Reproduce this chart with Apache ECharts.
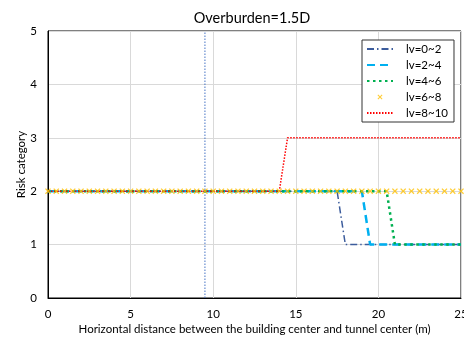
<!DOCTYPE html>
<html>
<head>
<meta charset="utf-8">
<script src="https://cdn.jsdelivr.net/npm/echarts@6/dist/echarts.min.js"></script>
<style>
  html, body { margin: 0; padding: 0; background: #fff; }
  #chart { width: 464px; height: 340px; }
</style>
</head>
<body>
<div id="chart"></div>
<script>
// breakpoints of each curve, [distance, risk category]
var lv0_2 = [[0, 2], [17.5, 2], [18, 1], [25, 1]];
var lv2_4 = [[0, 2], [19, 2], [19.5, 1], [25, 1]];
var lv4_6 = [[0, 2], [20.5, 2], [21, 1], [25, 1]];
var lv8_10 = [[0, 2], [14, 2], [14.5, 3], [25, 3]];
// lv=6~8 is plotted as markers every 0.5 m
var lv6_8X = [0, 0.5, 1, 1.5, 2, 2.5, 3, 3.5, 4, 4.5, 5, 5.5, 6, 6.5, 7, 7.5, 8, 8.5, 9, 9.5,
  10, 10.5, 11, 11.5, 12, 12.5, 13, 13.5, 14, 14.5, 15, 15.5, 16, 16.5, 17, 17.5, 18, 18.5, 19, 19.5,
  20, 20.5, 21, 21.5, 22, 22.5, 23, 23.5, 24, 24.5, 25];
var lv6_8Y = [2, 2, 2, 2, 2, 2, 2, 2, 2, 2, 2, 2, 2, 2, 2, 2, 2, 2, 2, 2,
  2, 2, 2, 2, 2, 2, 2, 2, 2, 2, 2, 2, 2, 2, 2, 2, 2, 2, 2, 2,
  2, 2, 2, 2, 2, 2, 2, 2, 2, 2, 2];
var refLine = [[9.5, 0], [9.5, 5]];
var xTicks = [0, 5, 10, 15, 20, 25];
var yTicks = [0, 1, 2, 3, 4, 5];

var font = "Lato, 'Open Sans', sans-serif";
var cross = "path://M0,1.5L1.5,0L5,3.5L8.5,0L10,1.5L6.5,5L10,8.5L8.5,10L5,6.5L1.5,10L0,8.5L3.5,5Z";
// same cross, padded so it stays small inside the legend icon box
var crossIcon = "path://M0,0L0.01,0L0,0.01Z M22,22L21.99,22L22,21.99Z " +
  "M6,7.5L7.5,6L11,9.5L14.5,6L16,7.5L12.5,11L16,14.5L14.5,16L11,12.5L7.5,16L6,14.5L9.5,11Z";
var hideSymbol = { color: "rgba(0,0,0,0)", borderWidth: 0, opacity: 0 };

var chart = echarts.init(document.getElementById("chart"));
var option = {
  animation: false,
  textStyle: { fontFamily: font },
  title: {
    text: "Overburden=1.5D",
    left: 247, top: 6, textAlign: "center",
    textStyle: { fontFamily: font, fontSize: 14.5, fontWeight: "normal", color: "#000" }
  },
  grid: {
    left: 48, right: 3, top: 31, bottom: 42,
    outerBoundsMode: "none",
    show: true, borderColor: "#000", borderWidth: 1
  },
  legend: {
    orient: "vertical",
    left: 362, top: 40,
    padding: [3, 6, 3, 4],
    itemGap: 4, itemWidth: 26, itemHeight: 11,
    backgroundColor: "#fff", borderColor: "#333", borderWidth: 1,
    textStyle: { fontFamily: font, fontSize: 11.5, color: "#000", padding: [0, 0, 0, 8] },
    data: [
      { name: "lv=0~2", itemStyle: hideSymbol },
      { name: "lv=2~4", itemStyle: hideSymbol },
      { name: "lv=4~6", itemStyle: hideSymbol },
      { name: "lv=6~8", icon: crossIcon },
      { name: "lv=8~10", itemStyle: hideSymbol }
    ]
  },
  xAxis: {
    type: "value", min: xTicks[0], max: xTicks[xTicks.length - 1], interval: 5,
    name: "Horizontal distance between the building center and tunnel center (m)",
    nameLocation: "middle", nameGap: 25, nameMoveOverlap: false,
    nameTextStyle: { fontFamily: font, fontSize: 11.5, color: "#000" },
    axisLine: { lineStyle: { color: "#000" } },
    axisTick: { show: false },
    axisLabel: { fontFamily: font, fontSize: 11.5, color: "#000", margin: 10 },
    splitLine: { lineStyle: { color: "#d9d9d9" } }
  },
  yAxis: {
    type: "value", min: yTicks[0], max: yTicks[yTicks.length - 1], interval: 1,
    name: "Risk category",
    nameLocation: "middle", nameGap: 21, nameMoveOverlap: false,
    nameTextStyle: { fontFamily: font, fontSize: 11.5, color: "#000" },
    axisLine: { show: true, lineStyle: { color: "#000" } },
    axisTick: { show: false },
    axisLabel: { fontFamily: font, fontSize: 11.5, color: "#000", margin: 11 },
    splitLine: { lineStyle: { color: "#d9d9d9" } }
  },
  series: [
    {
      name: "ref", type: "line", data: refLine, symbol: "none", silent: true,
      lineStyle: { color: "#4472C4", width: 1, type: [1.5, 1.5] }
    },
    {
      name: "lv=0~2", type: "line", data: lv0_2, symbol: "none",
      itemStyle: { color: "#3C5C9C" },
      lineStyle: { color: "#3C5C9C", width: 1.5, type: [7, 3, 1.5, 3] }
    },
    {
      name: "lv=2~4", type: "line", data: lv2_4, symbol: "none",
      itemStyle: { color: "#00B0F0" },
      lineStyle: { color: "#00B0F0", width: 2.5, type: [8, 5] }
    },
    {
      name: "lv=4~6", type: "line", data: lv4_6, symbol: "none",
      itemStyle: { color: "#00B050" },
      lineStyle: { color: "#00B050", width: 2.5, type: [2.5, 3.5] }
    },
    {
      name: "lv=8~10", type: "line", data: lv8_10, symbol: "none",
      itemStyle: { color: "#FF0000" },
      lineStyle: { color: "#FF0000", width: 1.5, type: [1.5, 1.5] }
    },
    {
      name: "lv=6~8", type: "scatter",
      data: lv6_8X.map(function (x, i) { return [x, lv6_8Y[i]]; }),
      symbol: cross, symbolSize: 6, z: 5,
      itemStyle: { color: "#FFC000" }
    }
  ]
};
chart.setOption(option);
</script>
</body>
</html>
